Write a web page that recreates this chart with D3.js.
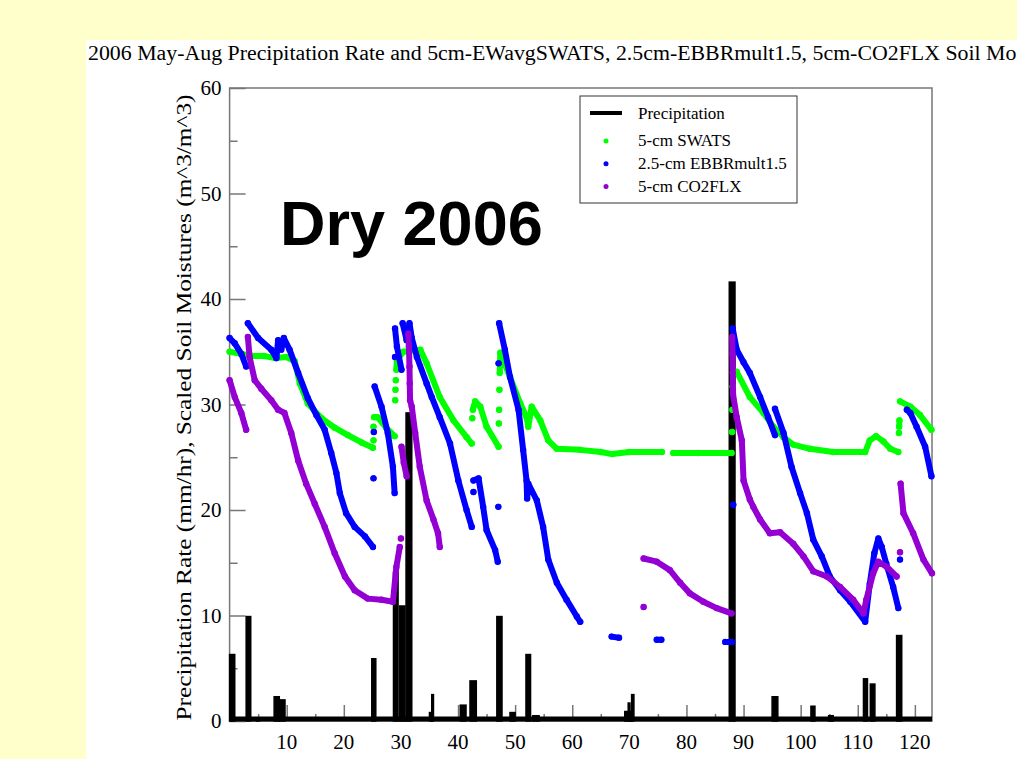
<!DOCTYPE html>
<html>
<head>
<meta charset="utf-8">
<script src="https://cdn.jsdelivr.net/npm/d3@7"></script>
<style>
  body { margin: 0; background: #ffffcc; }
  svg { display: block; }
</style>
</head>
<body>
<div id="chart"></div>
<script>
// Precipitation events: start day, end day, rate (mm/hr)
const precipStart = [0, 2.9, 4.7, 7.8, 8.7, 24.9, 28.7, 29.8, 30.9, 35.0, 35.4, 40.4, 42.1, 46.8, 49.1, 51.9, 53.1, 69.2, 69.8, 70.4, 87.5, 95.0, 101.8, 104.9, 111.0, 112.2, 116.8];
const precipEnd   = [0.9, 3.7, 5.2, 8.7, 9.7, 25.6, 29.5, 30.7, 31.9, 35.4, 35.7, 41.4, 43.2, 47.7, 50.0, 52.7, 54.2, 70.4, 70.1, 70.8, 88.5, 96.0, 102.5, 105.7, 111.7, 113.0, 117.7];
const precipVals  = [6.3, 9.9, 0.3, 2.3, 2.0, 5.9, 14.1, 10.9, 29.2, 0.8, 2.5, 1.5, 3.8, 9.9, 0.8, 6.3, 0.5, 0.9, 1.7, 2.5, 41.6, 2.3, 1.4, 0.5, 4.0, 3.5, 8.1];

// soil moisture series as [day, value], null = gap
const swats = [
  [0,35.0],[2,34.8],[4,34.6],[6,34.6],[8,34.4],[10,34.5],[11.4,34.1],[12.3,32.0],[13.7,30.1],[16.1,28.7],
  [18.4,27.8],[20.7,27.1],[23.1,26.4],[25.1,25.9], null, [25.2,26.6], null, [25.2,27.9], null,
  [25.3,28.8],[25.9,28.8],[27.4,27.8],[28.9,27.0], null, [29.0,30.4], null, [29.05,31.4], null, [29.1,32.3], null,
  [29.2,33.3],[29.3,34.2],[30.4,35.0],[33.4,35.2],[34.5,33.9],[36.8,30.7],[39.2,28.5],[41.5,26.9],[42.4,26.3], null,
  [42.5,28.7], null, [42.6,29.5],[43.0,30.3],[43.9,29.8],[45.0,27.9],[47.1,26.0], null, [47.15,28.2], null,
  [47.2,29.5], null, [47.25,31.4], null, [47.3,33.0],[47.35,33.9],[47.4,34.9],[49.1,32.6],[50.9,30.1],[52.0,28.8],
  [52.3,27.9],[52.9,29.8],[54.4,28.5],[55.8,26.6],[57.3,25.8],[61.4,25.7],[65,25.5],[67,25.3],[70,25.5],[75.7,25.5], null,
  [77.7,25.4],[82,25.4],[87.9,25.4], null, [88.0,27.4], null, [88.05,29.5], null, [88.1,31.7], null,
  [88.8,33.1],[91.1,30.7],[93.5,29.2],[95.2,27.9],[97,26.9],[98.7,26.2],[101.6,25.8],[105.7,25.5],[111.3,25.5],
  [112.1,26.6],[113.2,27.0],[114.5,26.5],[115.7,25.8],[117.1,25.5], null, [117.2,27.3], null, [117.25,27.9],[117.3,28.5], null,
  [117.4,30.3],[119.2,29.8],[120.9,29.0],[122.9,27.6]
];

const ebbr = [
  [0,36.3],[0.9,35.8],[2.05,34.8],[2.9,33.6], null,
  [3.2,37.7],[5,36.3],[7.3,35.2],[8.2,34.4],[8.5,36.1],[9.05,35.2],[9.5,36.3],[10.5,35.2],[12,33.0],[13.7,30.6],
  [15.2,29.0],[16.65,27.6],[17.8,25.4],[18.7,23.5],[19.3,21.6],[20.4,19.7],[21.9,18.4],[23.7,17.5],[25.1,16.5], null,
  [25.2,23.0], null, [25.25,27.4], null,
  [25.4,31.7],[26.6,29.8],[27.7,27.3],[28.6,24.1],[28.9,21.6], null,
  [28.97,37.2],[29.3,35.5],[30.1,33.3], null, [28.97,34.5], null,
  [30.3,37.7],[31.0,36.1],[31.5,37.7],[31.9,36.3],[32.8,34.5],[34.5,32.0],[35.4,30.7],[36.8,28.8],[38.6,26.3],
  [40.05,22.8],[41.5,20.0],[42.4,18.4], null, [42.7,21.7], null,
  [42.7,22.8],[43.6,23.0],[44.4,20.3],[45.0,18.1],[46.5,16.2],[46.95,15.1], null, [47.06,20.3], null, [47.1,33.9], null,
  [47.2,37.7],[48.2,35.2],[49.1,32.6],[50.6,29.5],[51.4,25.7],[52.0,22.8],[52.1,21.1],[52.3,22.5],[53.8,20.9],
  [54.9,18.4],[55.8,15.3],[57.3,13.1],[59.0,11.5],[60.8,9.9],[61.4,9.4], null,
  [66.9,8.0],[68.2,7.9], null, [74.8,7.7],[75.6,7.7], null, [86.8,7.5],[88.0,7.5], null, [88.2,20.5], null,
  [88.1,37.2],[88.8,35.2],[90.0,34.0],[91.1,33.0],[92.9,30.7],[94.3,28.8],[95.5,27.1], null,
  [95.5,29.6],[97,27.3],[98.4,24.1],[99.9,21.6],[101.1,19.7],[102.2,17.2],[103.7,15.6],[105.1,13.7],[106.9,12.4],
  [108.7,11.3],[111.3,9.4],[112.1,13.0],[112.9,15.9],[113.6,17.3],[114.2,16.5],[115.0,14.9],[116.2,12.7],[117.1,10.7], null,
  [117.4,15.3], null,
  [118.6,29.5],[119.2,29.2],[120.3,27.9],[121.8,26.0],[122.9,23.2]
];

const co2flx = [
  [0,32.3],[0.9,30.7],[2.05,29.2],[2.9,27.6], null,
  [3.2,36.4],[3.5,34.5],[4.4,32.3],[5.55,31.5],[7.3,30.4],[8.5,29.5],[9.6,29.2],[10.8,27.3],[12,24.7],[13.4,22.5],
  [14.9,20.6],[16.65,18.4],[18.4,15.9],[20.2,13.7],[21.9,12.4],[24.2,11.6],[26.6,11.5],[28.6,11.3],[29.2,14.6],
  [29.8,16.5], null, [30.0,17.3], null,
  [30.1,26.0],[30.5,24.5],[31.0,23.2], null,
  [31.3,36.7],[31.4,35.5],[31.5,33.6],[31.55,32.0],[31.6,30.4],[31.9,29.8],[32.5,27.3],[33.3,24.1],[34.5,20.9],
  [35.7,19.1],[36.5,17.8],[36.8,16.5], null,
  [72.5,10.8], null,
  [72.5,15.4],[74.8,15.1],[77.1,14.3],[78.9,13.1],[80.6,12.1],[82.96,11.3],[85.3,10.7],[87.9,10.2], null,
  [88.0,36.4],[88.05,34.8],[88.1,33.0],[88.15,31.0],[88.8,28.8],[89.7,26.6],[90.0,22.8],[91.1,21.0],[91.7,20.3],
  [92.9,19.1],[94.6,17.8],[96.4,17.9],[98.7,16.8],[100.5,15.6],[102.2,14.2],[104.6,13.7],[106.9,12.7],[109.2,11.5],
  [111.0,10.2],[111.5,11.5],[112.7,14.0],[113.6,15.1],[115.1,14.6],[116.8,13.7], null,
  [117.4,16.0], null,
  [117.5,22.5],[118.0,19.7],[119.7,17.8],[121.5,15.3],[123,14.0]
];

const seriesNames = ['5-cm SWATS', '2.5-cm EBBRmult1.5', '5-cm CO2FLX'];
const seriesColors = ['#00ff00', '#0000ff', '#9400d3'];
const yTicks = [0, 10, 20, 30, 40, 50, 60];
const xTicks = [10, 20, 30, 40, 50, 60, 70, 80, 90, 100, 110, 120];

const W = 1017, H = 759;
const margin = { top: 88, right: 85, bottom: 38, left: 229.6 };

const svg = d3.select('#chart').append('svg')
  .attr('width', W).attr('height', H);

// white panel on the yellow slide
svg.append('rect').attr('x', 86).attr('y', 40).attr('width', W - 86).attr('height', H - 40).attr('fill', '#fff');

const x = d3.scaleLinear().domain([0, 123]).range([margin.left, W - margin.right]);
const y = d3.scaleLinear().domain([0, 60]).range([H - margin.bottom, margin.top]);

// title (runs off the right edge like the original)
const title = svg.append('text')
  .attr('x', 88).attr('y', 60)
  .attr('font-family', 'Liberation Serif, serif')
  .attr('font-size', 20)
  .text('2006 May-Aug Precipitation Rate and 5cm-EWavgSWATS, 2.5cm-EBBRmult1.5, 5cm-CO2FLX Soil Moistures');
const prefixLen = title.node().getSubStringLength(0, 89);
title.attr('transform', `translate(88,0) scale(${929 / prefixLen},1) translate(-88,0)`);

// frame
svg.append('rect')
  .attr('x', x(0)).attr('y', y(60))
  .attr('width', x(123) - x(0)).attr('height', y(0) - y(60))
  .attr('fill', 'none').attr('stroke', '#777').attr('stroke-width', 1.5);

// ticks (inward)
const yAxis = d3.axisRight(y).tickValues(d3.range(0, 61, 5)).tickFormat('')
  .tickSize(0);
const yG = svg.append('g').attr('transform', `translate(${x(0)},0)`).call(yAxis);
yG.select('.domain').remove();
yG.selectAll('.tick line')
  .attr('x2', (d) => (d % 10 === 0 ? 16 : 8))
  .attr('stroke', '#777').attr('stroke-width', 1.5);

const xAxis = d3.axisTop(x).tickValues(d3.range(5, 121, 5)).tickFormat('').tickSize(0);
const xG = svg.append('g').attr('transform', `translate(0,${y(0)})`).call(xAxis);
xG.select('.domain').remove();
xG.selectAll('.tick line')
  .attr('y2', (d) => (d % 10 === 0 ? -16 : -7))
  .attr('stroke', '#777').attr('stroke-width', 1.5);

// tick labels
svg.append('g').selectAll('text').data(yTicks).join('text')
  .attr('x', x(0) - 8).attr('y', (d) => y(d)).attr('dy', '0.35em')
  .attr('text-anchor', 'end')
  .attr('font-family', 'Liberation Serif, serif').attr('font-size', 21)
  .text((d) => d);

svg.append('g').selectAll('text').data(xTicks).join('text')
  .attr('x', (d) => x(d)).attr('y', y(0) + 28)
  .attr('text-anchor', 'middle')
  .attr('font-family', 'Liberation Serif, serif').attr('font-size', 21)
  .text((d) => d);

// axis labels
svg.append('text')
  .attr('transform', `translate(191,${(y(0) + y(60)) / 2 + 3}) rotate(-90)`)
  .attr('text-anchor', 'middle')
  .attr('font-family', 'Liberation Serif, serif').attr('font-size', 21)
  .attr('textLength', 626).attr('lengthAdjust', 'spacingAndGlyphs')
  .text('Precipitation Rate (mm/hr), Scaled Soil Moistures (m^3/m^3)');

svg.append('text')
  .attr('x', (x(0) + x(123)) / 2).attr('y', 776)
  .attr('text-anchor', 'middle')
  .attr('font-family', 'Liberation Serif, serif').attr('font-size', 22)
  .text('Days Since May 1, 2006');

// precipitation: zero line plus event pulses
svg.append('line')
  .attr('x1', x(0)).attr('x2', x(123)).attr('y1', y(0) - 2).attr('y2', y(0) - 2)
  .attr('stroke', '#000').attr('stroke-width', 5);

svg.append('g').selectAll('rect').data(precipVals).join('rect')
  .attr('x', (d, i) => x(precipStart[i]))
  .attr('width', (d, i) => x(precipEnd[i]) - x(precipStart[i]))
  .attr('y', (d) => y(d))
  .attr('height', (d) => y(0) - y(d))
  .attr('fill', '#000').attr('stroke', '#000').attr('stroke-width', 1.5);

// soil moisture dots
const line = d3.line()
  .defined((d) => d !== null)
  .x((d) => x(d[0]))
  .y((d) => y(d[1]));

[swats, ebbr, co2flx].forEach((s, i) => {
  const g = svg.append('g');
  g.append('path')
    .attr('d', line(s))
    .attr('fill', 'none')
    .attr('stroke', seriesColors[i])
    .attr('stroke-width', 6)
    .attr('stroke-linecap', 'round')
    .attr('stroke-linejoin', 'round');
  g.selectAll('circle').data(s.filter((d) => d !== null)).join('circle')
    .attr('cx', (d) => x(d[0])).attr('cy', (d) => y(d[1]))
    .attr('r', 3.2).attr('fill', seriesColors[i]);
});

// big annotation
svg.append('text')
  .attr('x', 280).attr('y', 245)
  .attr('font-family', 'Liberation Sans, Arial, sans-serif')
  .attr('font-weight', 'bold').attr('font-size', 63)
  .text('Dry 2006');

// legend
const lg = svg.append('g');
lg.append('rect')
  .attr('x', 580).attr('y', 96).attr('width', 217).attr('height', 107)
  .attr('fill', '#fff').attr('stroke', '#333').attr('stroke-width', 1);
lg.append('line')
  .attr('x1', 590).attr('x2', 622).attr('y1', 113).attr('y2', 113)
  .attr('stroke', '#000').attr('stroke-width', 4);
lg.append('text')
  .attr('x', 638).attr('y', 119)
  .attr('font-family', 'Liberation Serif, serif').attr('font-size', 17)
  .text('Precipitation');
seriesNames.forEach((name, i) => {
  const yy = 141 + i * 22.8;
  lg.append('circle').attr('cx', 606).attr('cy', yy).attr('r', 2.5).attr('fill', seriesColors[i]);
  lg.append('text')
    .attr('x', 638).attr('y', yy + 5)
    .attr('font-family', 'Liberation Serif, serif').attr('font-size', 17)
    .text(name);
});
</script>
</body>
</html>
